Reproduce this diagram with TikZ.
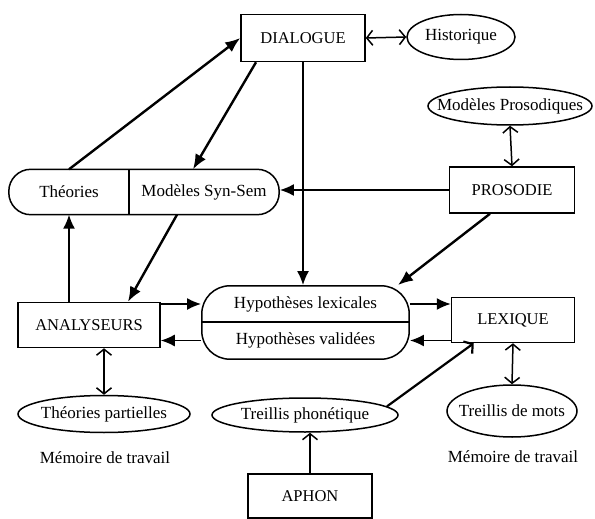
\documentclass[tikz,border=0pt]{standalone}
\usepackage{fontspec}
\setmainfont{Liberation Serif}
\usetikzlibrary{arrows.meta,shapes.geometric,fit}

\begin{document}
\begin{tikzpicture}
		[x=1pt,y=-1pt]
			\tikzstyle{every node}=[font=\fontsize{17}{20}\selectfont, inner sep=0pt]
			\tikzstyle{boite}=[draw, line width=1.5pt, font=\fontsize{16.5}{19}\selectfont]
			\tikzstyle{memo}=[ellipse, draw, line width=1.5pt]
			\tikzstyle{fl}=[line width=1.5pt, -{Latex[length=14pt,width=12pt]}]
			\tikzstyle{fld}=[line width=2.4pt, -{Latex[length=15pt,width=12pt]}]
			\tikzstyle{ba}=[line width=1.5pt, -{Straight Barb[length=6pt,width=15pt]}]
			\tikzstyle{dbl}=[line width=1.5pt, {Straight Barb[length=6pt,width=15pt]}-{Straight Barb[length=6pt,width=15pt]}]
		\useasboundingbox (0,0) rectangle (595,519);
		%-----boites
		 \node[boite, minimum width=124pt, minimum height=47pt] (DIA) at (303,38) {DIALOGUE};
		 \node[boite, minimum width=125pt, minimum height=46pt] (PRO) at (512,190) {PROSODIE};
		 \node[boite, minimum width=142pt, minimum height=45pt] (ANA) at (89,325) {ANALYSEURS};
		 \node[boite, minimum width=123pt, minimum height=45pt] (LEX) at (513,320) {LEXIQUE};
		 \node[boite, minimum width=124pt, minimum height=44pt] (APH) at (310,496) {APHON};
		%-----memoires
		 \node[memo, minimum width=108pt, minimum height=45pt] (HIS) at (461,37) {\makebox[0pt]{Historique}};
		 \node[memo, minimum width=164pt, minimum height=38pt] (MPR) at (510,106) {\makebox[0pt]{Modèles Prosodiques}};
		 \node[memo, minimum width=172pt, minimum height=37pt] (TPA) at (104,414) {\makebox[0pt]{Théories partielles}};
		 \node[memo, minimum width=186pt, minimum height=34pt] (TPH) at (305,415) {\makebox[0pt]{Treillis phonétique}};
		 \node[memo, minimum width=130pt, minimum height=52pt] (TMO) at (512,411) {\makebox[0pt]{Treillis de mots}};
		 \node (MT1) at (105,458) {Mémoire de travail};
		 \node (MT2) at (513,457) {Mémoire de travail};
		%-----Theories / Syn-Sem
		 \node[minimum width=120pt, minimum height=45pt] (THE) at (69,192) {Théories};
		 \node[minimum width=150pt, minimum height=45pt] (SYN) at (204,192) {Modèles Syn-Sem};
		 \node[draw, line width=1.5pt, rounded corners=22pt, fit=(THE)(SYN)] (TS) {};
		 \draw[line width=1.5pt] (SYN.north west) -- (SYN.south west);
		%-----Hypotheses
		 \node[minimum width=207pt, minimum height=36pt] (HLX) at (305.5,304) {Hypothèses lexicales};
		 \node[minimum width=207pt, minimum height=37pt] (HVA) at (305.5,340.5) {Hypothèses validées};
		 \node[draw, line width=1.5pt, rounded corners=28pt, fit=(HLX)(HVA)] (HYP) {};
		 \draw[line width=1.5pt] (HVA.north west) -- (HVA.north east);
		%-----fleches
		 \draw[fld] (THE.north) -- (DIA.west);
		 \draw[fld] ([xshift=-47pt]DIA.south) -- ([xshift=-11pt]SYN.north);
		 \draw[fld] ([xshift=-27pt]SYN.south) -- ([xshift=39pt]ANA.north);
		 \draw[fld] ([xshift=-22pt]PRO.south) -- ([xshift=-12pt]HYP.north east);
		 \draw[fl] (THE.south |- ANA.north) -- (THE.south);
		 \draw[fl] (PRO.west) -- (PRO.west -| TS.east);
		 \draw[fl] (DIA.south) -- (DIA.south |- HYP.north);
		 \draw[fl] (ANA.east |- HLX) -- (HYP.west |- HLX);
		 \draw[fl] (HYP.west |- HVA) -- (ANA.east |- HVA);
		 \draw[fl] (HYP.east |- HLX) -- (LEX.west |- HLX);
		 \draw[fl] (LEX.west |- HVA) -- (HYP.east |- HVA);
		 \draw[ba, line width=2.2pt] (TPH.6) -- ([xshift=23pt]LEX.south west);
		 \draw[ba] (APH.north) -- (APH.north |- TPH.south);
		 \draw[dbl] (TPA.north |- ANA.south) -- (TPA.north);
		 \foreach \from/\to in {DIA.east/HIS.west,MPR.south/PRO.north,LEX.south/TMO.north}
		 \draw[dbl] (\from) -- (\to);
\end{tikzpicture}
\end{document}
